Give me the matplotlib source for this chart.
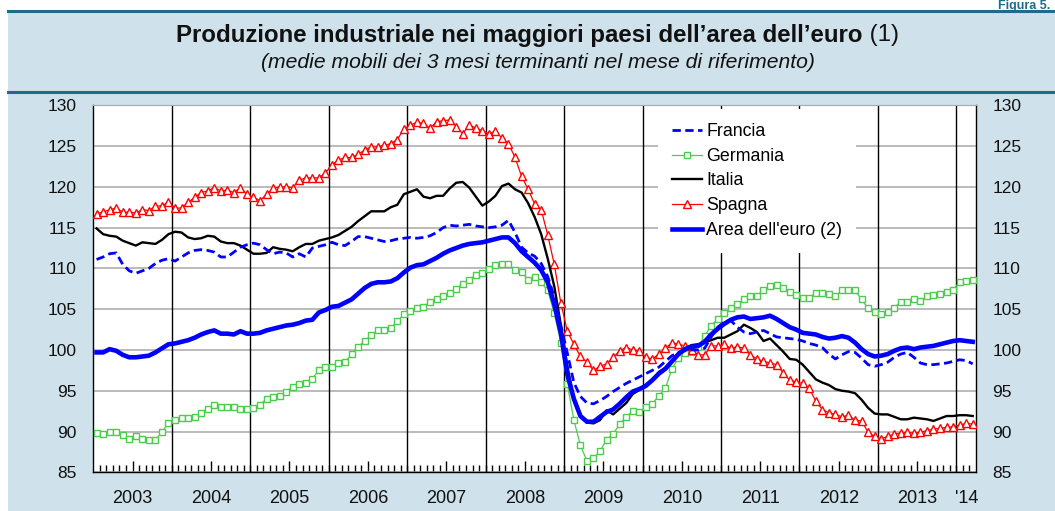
import numpy as np
import matplotlib
matplotlib.use('Agg')
import matplotlib.pyplot as plt
from matplotlib.patches import Rectangle
from matplotlib.lines import Line2D

plt.rcParams['font.family'] = ['Liberation Sans', 'DejaVu Sans']

# monthly data, Jan 2003 - Mar 2014 (3-month moving averages)
anni = ['2003', '2004', '2005', '2006', '2007', '2008', '2009', '2010',
        '2011', '2012', '2013', "'14"]

francia = [111.1, 111.4, 111.8, 111.9, 110.5, 109.7, 109.4, 109.7, 110.0, 110.6, 111.0, 111.2,
           110.9, 111.4, 111.9, 112.2, 112.3, 112.2, 112.0, 111.4, 111.4, 112.0, 112.6, 112.9,
           113.1, 112.9, 112.3, 111.8, 112.0, 111.9, 111.4, 111.8, 111.4, 112.5, 112.7, 112.9,
           113.2, 112.9, 112.8, 113.3, 113.9, 113.9, 113.7, 113.5, 113.3, 113.4, 113.6, 113.7,
           113.8, 113.7, 113.8, 114.0, 114.4, 115.0, 115.3, 115.2, 115.3, 115.4, 115.2, 115.1,
           115.0, 115.1, 115.3, 115.9, 114.4, 112.6, 111.9, 111.5, 110.6, 109.0, 106.5, 103.0,
           99.6, 96.0, 94.3, 93.5, 93.4, 93.8, 94.3, 94.9, 95.4, 95.9, 96.3, 96.7,
           97.1, 97.5, 97.9, 98.6, 99.3, 99.7, 99.9, 100.0, 100.0, 100.2, 101.6, 102.8,
           103.4, 103.6, 102.8, 102.2, 102.0, 102.2, 102.4, 102.0, 101.6, 101.5, 101.4, 101.3,
           101.1, 100.8, 100.6, 100.3, 99.5, 98.9, 99.4, 99.8, 99.7, 99.0, 98.2, 98.0,
           98.2, 98.5, 99.1, 99.5, 99.7, 99.1, 98.4, 98.2, 98.2, 98.3, 98.4, 98.6,
           98.8, 98.7, 98.3]

germania = [89.8, 89.7, 90.0, 90.0, 89.6, 89.1, 89.4, 89.1, 89.0, 89.0, 89.9, 91.1,
            91.4, 91.7, 91.6, 91.8, 92.3, 92.8, 93.2, 93.0, 93.0, 93.0, 92.8, 92.8,
            92.9, 93.3, 94.0, 94.2, 94.4, 94.9, 95.5, 95.8, 96.0, 96.5, 97.5, 97.9,
            97.9, 98.4, 98.5, 99.5, 100.4, 101.1, 101.8, 102.4, 102.4, 102.7, 103.5, 104.4,
            104.8, 105.2, 105.3, 105.9, 106.2, 106.6, 107.0, 107.5, 108.1, 108.6, 109.2, 109.4,
            109.9, 110.4, 110.5, 110.5, 109.8, 109.6, 108.6, 109.0, 108.3, 107.3, 104.5, 100.9,
            95.8, 91.4, 88.3, 86.4, 86.7, 87.6, 89.0, 89.7, 90.9, 91.8, 92.5, 92.4,
            93.0, 93.4, 94.4, 95.3, 97.7, 99.0, 99.6, 99.8, 100.4, 101.7, 103.0, 103.8,
            104.5, 105.1, 105.6, 106.2, 106.6, 106.6, 107.4, 107.8, 108.0, 107.6, 107.1, 106.8,
            106.4, 106.4, 107.0, 107.0, 106.9, 106.6, 107.3, 107.4, 107.3, 106.2, 105.1, 104.7,
            104.4, 104.6, 105.2, 105.9, 105.9, 106.2, 106.0, 106.6, 106.7, 106.9, 107.1, 107.4,
            108.3, 108.5, 108.6]

italia = [114.9, 114.2, 114.0, 113.9, 113.4, 113.1, 112.8, 113.2, 113.1, 113.0, 113.5, 114.2,
          114.5, 114.4, 113.8, 113.6, 113.7, 114.0, 113.9, 113.3, 113.1, 113.1, 112.8, 112.3,
          111.8, 111.8, 111.9, 112.6, 112.4, 112.3, 112.1, 112.6, 113.0, 113.0, 113.4, 113.6,
          113.8, 114.1, 114.6, 115.1, 115.8, 116.4, 117.0, 117.0, 117.0, 117.5, 117.8, 119.1,
          119.4, 119.7, 118.8, 118.6, 118.9, 118.9, 119.8, 120.5, 120.6, 119.9, 118.8, 117.7,
          118.2, 118.9, 120.1, 120.4, 119.7, 119.3, 118.0, 116.3, 114.2, 111.2, 107.8, 103.1,
          98.0, 94.0, 91.8, 91.1, 91.0, 91.4, 92.6, 92.1, 92.8, 93.5, 94.6, 95.1,
          95.7, 96.3, 97.3, 97.8, 98.6, 99.6, 100.2, 100.6, 100.7, 100.9, 101.2, 101.5,
          101.5, 101.9, 102.3, 103.1, 102.7, 102.2, 101.1, 101.4, 100.6, 99.8, 98.9, 98.8,
          98.2, 97.3, 96.4, 96.0, 95.7, 95.2, 95.0, 94.9, 94.7, 93.9, 92.9, 92.2,
          92.1, 92.1, 91.8, 91.5, 91.5, 91.7, 91.6, 91.5, 91.3, 91.6, 91.9, 91.9,
          92.0, 92.0, 91.9]

spagna = [116.7, 116.9, 117.2, 117.4, 116.9, 116.9, 116.8, 117.2, 117.1, 117.6, 117.7, 118.1,
          117.4, 117.4, 118.1, 118.7, 119.3, 119.5, 119.9, 119.5, 119.6, 119.3, 119.9, 119.1,
          118.7, 118.3, 119.1, 119.8, 120.0, 120.0, 119.9, 120.8, 121.1, 121.1, 121.1, 121.7,
          122.7, 123.3, 123.6, 123.6, 124.0, 124.5, 124.9, 124.9, 125.1, 125.3, 125.8, 127.1,
          127.6, 127.9, 127.8, 127.2, 128.0, 128.1, 128.2, 127.4, 126.5, 127.6, 127.2, 126.9,
          126.5, 126.8, 126.0, 125.3, 123.6, 121.3, 119.7, 117.9, 117.2, 114.1, 110.5, 105.8,
          102.3, 100.7, 99.2, 98.5, 97.5, 98.0, 98.3, 99.1, 99.9, 100.3, 100.0, 99.9,
          99.1, 98.9, 99.5, 100.2, 100.9, 100.7, 100.5, 100.0, 99.4, 99.4, 100.5, 100.5,
          100.7, 100.2, 100.4, 100.2, 99.4, 98.9, 98.6, 98.4, 98.2, 97.2, 96.3, 96.1,
          95.9, 95.3, 93.7, 92.7, 92.3, 92.1, 91.8, 92.0, 91.4, 91.3, 89.9, 89.4,
          89.1, 89.4, 89.7, 89.8, 89.9, 89.8, 89.9, 90.1, 90.3, 90.4, 90.5, 90.6,
          90.8, 91.0, 90.9]

euro = [99.7, 99.7, 100.1, 99.9, 99.4, 99.1, 99.1, 99.2, 99.3, 99.7, 100.2, 100.7,
        100.8, 101.0, 101.2, 101.5, 101.9, 102.2, 102.4, 102.0, 102.0, 101.9, 102.3, 102.0,
        102.0, 102.1, 102.4, 102.6, 102.8, 103.0, 103.1, 103.3, 103.6, 103.7, 104.6, 104.9,
        105.3, 105.4, 105.8, 106.2, 106.9, 107.6, 108.1, 108.3, 108.3, 108.4, 108.8, 109.5,
        110.1, 110.4, 110.5, 110.9, 111.3, 111.8, 112.2, 112.5, 112.8, 113.0, 113.1, 113.2,
        113.4, 113.6, 113.8, 113.8, 113.1, 112.1, 111.4, 110.7, 109.8, 108.3, 105.6, 102.1,
        97.0, 94.0, 91.9, 91.2, 91.2, 91.8, 92.4, 92.7, 93.4, 94.2, 94.9, 95.2,
        95.6, 96.3, 97.1, 97.7, 98.6, 99.5, 100.1, 100.4, 100.5, 101.0, 101.9, 102.6,
        103.2, 103.7, 104.0, 104.1, 103.8, 103.9, 104.0, 104.2, 103.8, 103.3, 102.8, 102.5,
        102.1, 102.0, 101.9, 101.6, 101.4, 101.5, 101.7, 101.5, 100.9, 100.1, 99.5, 99.2,
        99.3, 99.5, 99.9, 100.2, 100.3, 100.1, 100.3, 100.4, 100.5, 100.7, 100.9, 101.1,
        101.2, 101.1, 101.0]

W, H = 1055, 511
def fx(px):
    return px / W
def fy(py):
    return 1 - py / H

bg = '#cfe1ea'
teal = '#1f6b8c'

fig = plt.figure(figsize=(W / 100, H / 100), dpi=100)
fig.add_artist(Rectangle((fx(8), 0), 1 - fx(8), fy(11), transform=fig.transFigure,
                         facecolor=bg, edgecolor='none', zorder=0))
fig.add_artist(Line2D([fx(8), 1], [fy(11.5)] * 2, transform=fig.transFigure, color=teal, lw=2.2))
fig.add_artist(Line2D([fx(8), 1], [fy(92)] * 2, transform=fig.transFigure, color=teal, lw=2.2))

fig.text(fx(1050), fy(9), 'Figura 5.', ha='right', va='baseline', fontsize=9,
         fontweight='bold', color=teal)

# title: bold part + normal "(1)"
t1 = fig.text(0, fy(35), 'Produzione industriale nei maggiori paesi dell\u2019area dell\u2019euro',
              fontsize=17.3, fontweight='bold', va='center', ha='left', color='#111111')
t2 = fig.text(0, fy(35), ' (1)', fontsize=17.3, va='center', ha='left', color='#111111')
fig.canvas.draw()
r = fig.canvas.get_renderer()
w1 = t1.get_window_extent(r).width
w2 = t2.get_window_extent(r).width
x0 = 537.5 - (w1 + w2) / 2
t1.set_x(fx(x0))
t2.set_x(fx(x0 + w1))
fig.text(fx(537.5), fy(62), '(medie mobili dei 3 mesi terminanti nel mese di riferimento)',
         fontsize=15.2, style='italic', ha='center', va='center', color='#111111')

ax = fig.add_axes([fx(93.3), fy(472.3), fx(976) - fx(93.3), (472.3 - 105.3) / H])
ax.set_facecolor('white')

x = np.arange(len(euro)) + 0.5
blu = '#0000ff'
verde = '#4ccc4c'
ax.plot(x, germania, color=verde, lw=0.9, marker='s', ms=5, mfc='white', mec=verde,
        mew=1.0, label='Germania', zorder=3)
ax.plot(x, spagna, color='#ff0000', lw=0.9, marker='^', ms=5.5, mfc='white', mec='#ff0000',
        mew=1.0, label='Spagna', zorder=3)
ax.plot(x, italia, color='black', lw=1.7, label='Italia', zorder=4)
ax.plot(x, euro, color=blu, lw=3.3, label="Area dell'euro (2)", zorder=5)
ax.plot(x, francia, color=blu, lw=2.0, dashes=(3.0, 1.6), label='Francia', zorder=6)

for k in range(12, len(euro), 12):
    ax.axvline(k, color='black', lw=1.0, zorder=2)

ax.set_xlim(0, len(euro))
ax.set_ylim(85, 130)
ax.set_yticks(np.arange(85, 131, 5))
ax.yaxis.grid(True, color='#a8a8a8', lw=1.1)
ax.set_axisbelow(True)

pos = list(np.arange(6, 132, 12)) + [133.5]
ax.set_xticks(pos)
ax.set_xticklabels(anni)
ax.set_xticks(np.arange(1, len(euro)), minor=True)
ax.tick_params(axis='x', which='major', direction='in', length=8, width=1, pad=12.5,
               labelsize=13, labelcolor='#111111')
ax.tick_params(axis='x', which='minor', direction='in', length=5, width=1)
ax.xaxis.get_major_ticks()[-1].tick1line.set_visible(False)
ax.tick_params(axis='y', which='both', left=False, right=False, labelleft=True,
               labelright=True, labelsize=12.5, pad=8.3, labelcolor='#111111')

for s in ['left', 'right', 'bottom']:
    ax.spines[s].set_color('black')
    ax.spines[s].set_linewidth(1.0)
ax.spines['top'].set_color('#a8a8a8')

h, l = ax.get_legend_handles_labels()
ordine = ['Francia', 'Germania', 'Italia', 'Spagna', "Area dell'euro (2)"]
hh = [h[l.index(n)] for n in ordine]
leg = ax.legend(hh, ordine, loc='upper left', bbox_to_anchor=(0.6395, 0.99),
                frameon=True, fancybox=False, facecolor='white', edgecolor='none',
                framealpha=1, fontsize=12.8, handlelength=1.7, handletextpad=0.22,
                labelspacing=0.43, borderpad=0.8, borderaxespad=0)
leg.set_zorder(10)

fig.savefig('out.png', dpi=100)
